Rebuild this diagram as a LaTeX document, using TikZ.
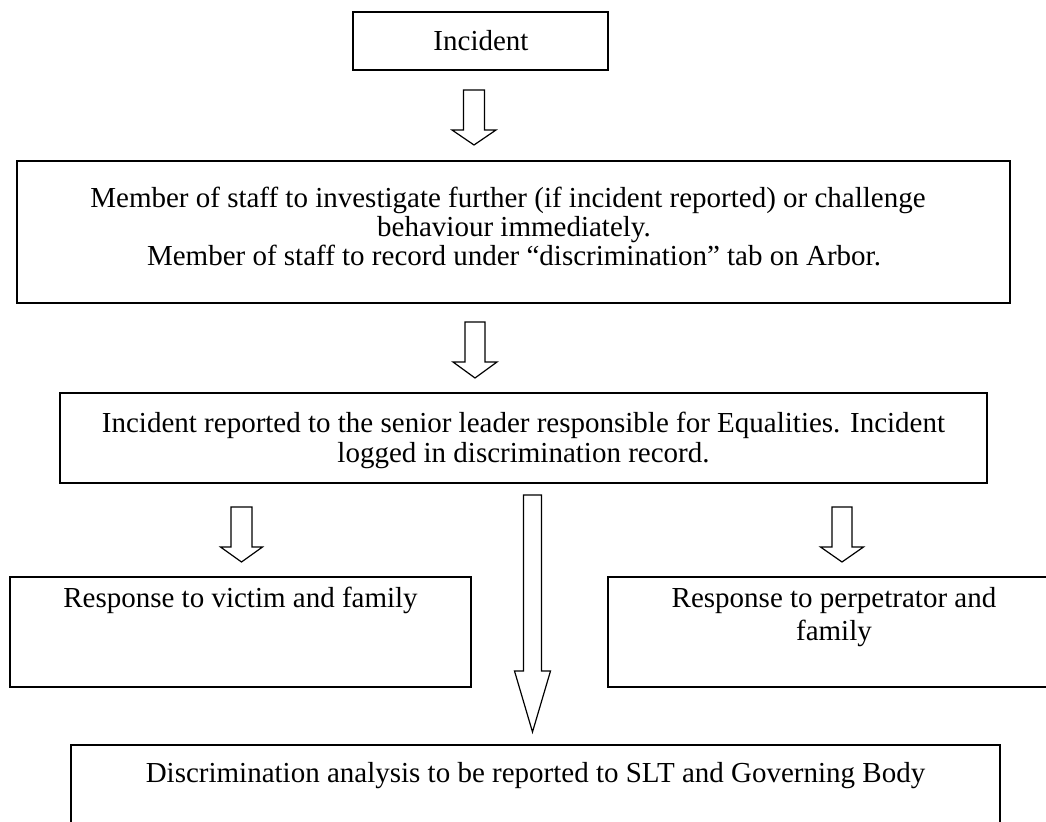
\documentclass[tikz,border=0pt]{standalone}
\usepackage{fontspec}
\setmainfont{Liberation Serif}
\usetikzlibrary{fit}
\newcommand{\blkarrow}[6]{% cx, top, headbase, tip, halfshaft, halfhead
  \draw[blockarrow] ({#1-#5},#2) -- ({#1-#5},#3) -- ({#1-#6},#3) -- (#1,#4)
    -- ({#1+#6},#3) -- ({#1+#5},#3) -- ({#1+#5},#2) -- cycle;}
\begin{document}
\begin{tikzpicture}[x=0.5pt,y=-0.5pt,
  box/.style={draw,line width=1pt,inner sep=0pt},
  blockarrow/.style={draw,line width=0.6pt,line join=miter,fill=white},
  txt/.style={anchor=base,inner sep=0pt,font=\fontsize{14.5}{16}\selectfont}]
\path[use as bounding box] (0,0) rectangle (1046,822);
\clip (0,0) rectangle (1046,822);
% boxes
\node[box,fit={(353,12) (608,70)}] (b1) {};
\node[box,fit={(17,161) (1010,303)}] (b2) {};
\node[box,fit={(60,393) (987,483)}] (b3) {};
\node[box,fit={(10,577) (471,687)}] (b4) {};
\node[box,fit={(608,577) (1058,687)}] (b5) {};
\node[box,fit={(71,745) (1000,880)}] (b6) {};
% texts
\node[txt] (t1) at (481,51) {Incident};
\node[txt] (t2a) at (508,208) {Member of staff to investigate further (if incident reported) or challenge};
\node[txt] (t2b) at (514,237) {behaviour immediately.};
\node[txt] (t2c) at (514,266) {Member of staff to record under “discrimination” tab on Arbor.};
\node[txt] (t3a) at (523.5,433) {Incident reported to the senior leader responsible for Equalities. Incident};
\node[txt] (t3b) at (523.5,463) {logged in discrimination record.};
\node[txt] (t4) at (240.5,608) {Response to victim and family};
\node[txt] (t5a) at (834,608) {Response to perpetrator and};
\node[txt] (t5b) at (834,641) {family};
\node[txt] (t6) at (535.5,783) {Discrimination analysis to be reported to SLT and Governing Body};
% block arrows
\blkarrow{474}{90}{130}{145}{10.5}{22}
\blkarrow{475}{322}{362}{378}{10}{22}
\blkarrow{241.5}{507}{547}{562}{10.5}{21}
\blkarrow{532.5}{495}{671}{732}{9}{18}
\blkarrow{842}{507}{547}{562}{10}{21.5}
\end{tikzpicture}
\end{document}
